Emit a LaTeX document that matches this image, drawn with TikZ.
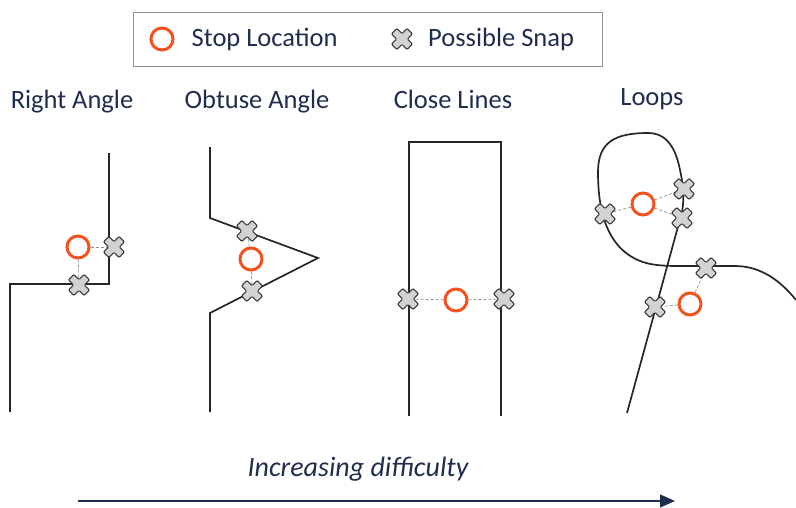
\documentclass[tikz,border=0pt]{standalone}
\usepackage{fontspec}
\setmainfont{Carlito}
\usetikzlibrary{arrows.meta,positioning}

\definecolor{stopOrange}{HTML}{F4511E}
\definecolor{labelNavy}{HTML}{1F2D4E}
\definecolor{snapGray}{HTML}{D2D2D2}
\definecolor{snapEdge}{HTML}{3A3A3A}
\definecolor{frameGray}{HTML}{8C919B}

\tikzset{
  road/.style={draw=black!85, line width=1.7pt, line join=miter},
  stop/.style={circle, draw=stopOrange, line width=3pt, minimum size=22pt, inner sep=0pt},
  hint/.style={draw=black!45, dash pattern=on 3pt off 2pt, line width=0.7pt},
  title/.style={text=labelNavy, font=\fontsize{26.5}{30}\selectfont, anchor=base},
  keytext/.style={text=labelNavy, font=\fontsize{26.5}{30}\selectfont, inner sep=0pt, anchor=west},
  % grey cross marking a candidate snap point
  snap/.pic={
    \path[fill=snapGray, draw=snapEdge, line width=1.1pt, rounded corners=1pt, rotate=45]
      (-3.8,-11) -- (3.8,-11) -- (3.8,-3.8) -- (11,-3.8) -- (11,3.8) -- (3.8,3.8)
      -- (3.8,11) -- (-3.8,11) -- (-3.8,3.8) -- (-11,3.8) -- (-11,-3.8) -- (-3.8,-3.8) -- cycle;
  }
}

\begin{document}
\begin{tikzpicture}[x=1pt, y=-1pt]
\useasboundingbox (0,0) rectangle (796,507);

% Legend
\draw[frameGray, line width=1pt] (133,12) rectangle (602,66);
\node[stop] (key-stop) at (162,39) {};
\node[keytext, right=17pt of key-stop] (key-stop-text) {Stop Location};
\coordinate (key-snap) at (402,39);
\pic at (key-snap) {snap};
\node[keytext] (key-snap-text) at (428,39) {Possible Snap};

% Column titles
\node[title] (t-right) at (72,108) {Right Angle};
\node[title] (t-obtuse) at (257,108) {Obtuse Angle};
\node[title] (t-close) at (453,108) {Close Lines};
\node[title] (t-loops) at (652,105) {Loops};

% Right angle
\draw[road] (10,412) -- (10,284) -- (109,284) -- (109,153);
\node[stop] (ra-c) at (78,247) {};
\coordinate (ra-s1) at (114,247);
\coordinate (ra-s2) at (79,285);
\draw[hint] (ra-c) -- (ra-s1);
\draw[hint] (ra-c) -- (ra-s2);
\pic at (ra-s1) {snap};
\pic at (ra-s2) {snap};

% Obtuse angle
\draw[road] (210,412) -- (210,313) -- (318,258) -- (210,218) -- (210,147);
\node[stop] (oa-c) at (251,259) {};
\coordinate (oa-s1) at (247,231);
\coordinate (oa-s2) at (252,291);
\draw[hint] (oa-c) -- (oa-s1);
\draw[hint] (oa-c) -- (oa-s2);
\pic at (oa-s1) {snap};
\pic at (oa-s2) {snap};

% Close lines
\draw[road] (409,416) -- (409,142) -- (501,142) -- (501,416);
\node[stop] (cl-c) at (456,300) {};
\coordinate (cl-s1) at (408,299);
\coordinate (cl-s2) at (504,299);
\draw[hint] (cl-c) -- (cl-s1);
\draw[hint] (cl-c) -- (cl-s2);
\pic at (cl-s1) {snap};
\pic at (cl-s2) {snap};

% Loops
\draw[road] (627,413) -- (682,212)
  .. controls (684,200) and (684,188) .. (680,170)
  .. controls (676,150) and (668,133) .. (648,133)
  .. controls (615,133) and (598,142) .. (598,172)
  .. controls (598,202) and (603,240) .. (632,257)
  .. controls (645,265) and (660,266) .. (680,266)
  -- (735,266)
  .. controls (760,266) and (780,280) .. (796,300);
\node[stop] (lp-c1) at (643,204) {};
\node[stop] (lp-c2) at (690,304) {};
\coordinate (lp-s1) at (605,214);
\coordinate (lp-s2) at (684,189);
\coordinate (lp-s3) at (682,218);
\coordinate (lp-s4) at (706,268);
\coordinate (lp-s5) at (655,307);
\draw[hint] (lp-c1) -- (lp-s1);
\draw[hint] (lp-c1) -- (lp-s2);
\draw[hint] (lp-c1) -- (lp-s3);
\draw[hint] (lp-c2) -- (lp-s4);
\draw[hint] (lp-c2) -- (lp-s5);
\foreach \s in {lp-s1,lp-s2,lp-s3,lp-s4,lp-s5}
  \pic at (\s) {snap};

% Difficulty axis
\node[text=labelNavy, font=\fontsize{28}{32}\selectfont\itshape] (axis-label) at (358,469) {Increasing difficulty};
\coordinate (easy) at (78,501);
\coordinate (hard) at (675,501);
\draw[labelNavy, line width=1.3pt, -{Triangle[length=15pt, width=13pt]}] (easy) -- (hard);
\end{tikzpicture}
\end{document}
